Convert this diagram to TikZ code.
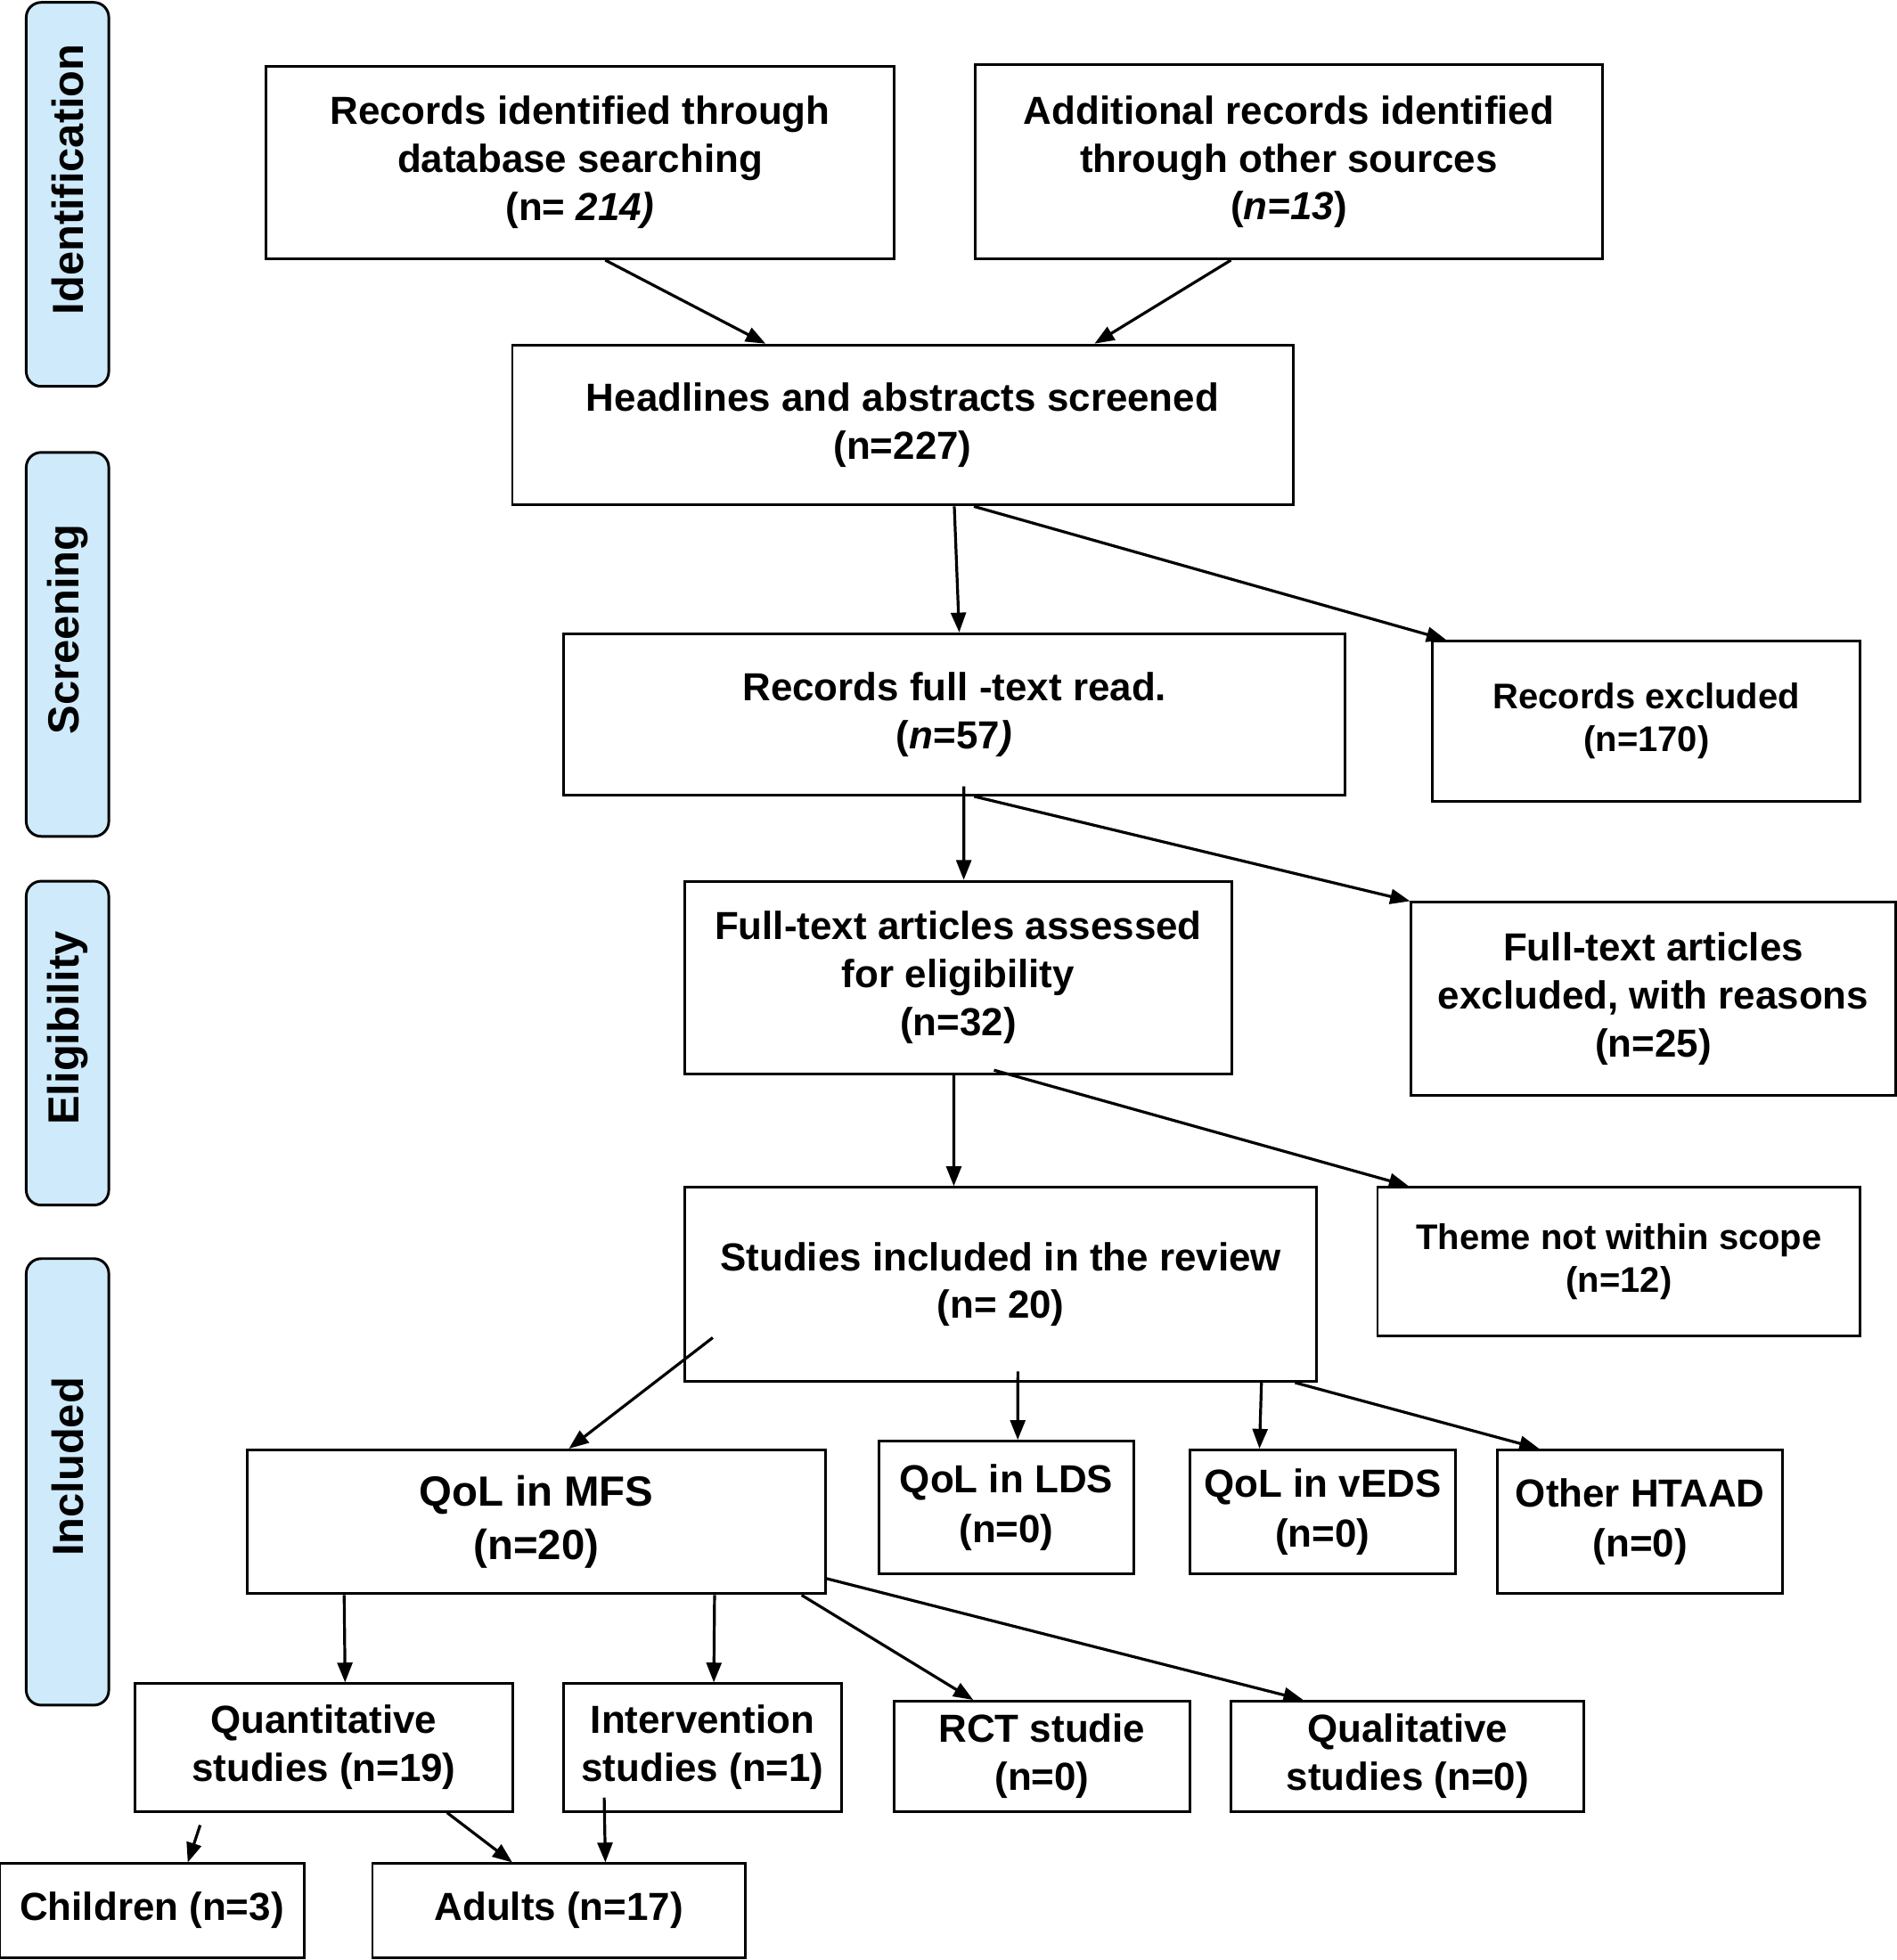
\documentclass[tikz,border=0pt]{standalone}
\usepackage{fontspec}
\setmainfont{Liberation Sans}
\usepackage{xcolor}
\definecolor{stageblue}{RGB}{206,234,251}
\usepackage{tikz}
\usetikzlibrary{calc,positioning,arrows.meta}
\tikzset{
    stage/.style={
    rectangle,rounded corners=3.4pt,draw=black,fill=stageblue,line width=0.6pt,rotate=90,minimum height=0.66cm,font=\fontsize{9.9}{12}\selectfont\bfseries,execute at begin node=\hspace*{0.24cm}
    },
  prog/.style={rectangle, draw=black, line width=0.6pt, align=center, inner sep=2pt, font=\fontsize{8.9}{10.9}\selectfont\bfseries},
  progsm/.style={prog, font=\fontsize{8.1}{9.7}\selectfont\bfseries},
  progqol/.style={prog, font=\fontsize{8.9}{11.4}\selectfont\bfseries},
  progbig/.style={prog, font=\fontsize{9.6}{12.2}\selectfont\bfseries},
  line/.style={draw, line width=0.65pt, -{Triangle[length=4.5pt,width=3.4pt]}}
}

\begin{document}
\begin{tikzpicture}[x=0.01cm,y=-0.01cm]
    \useasboundingbox (0,0) rectangle (1517,1568);

    \node[stage,minimum width=3.07cm] (sid) at (54,155.5) {Identification};
    \node[stage,minimum width=3.07cm] (sscr) at (54,515.5) {Screening};
    \node[stage,minimum width=2.59cm] (selig) at (54,834.5) {Eligibility};
    \node[stage,minimum width=3.57cm] (sinc) at (54,1185.5) {Included};

    \node[prog,minimum width=5.02cm,minimum height=1.54cm] (db) at (464,130) {Records identified through\\ database searching\\ (n= \textit{214)}};
    \node[prog,minimum width=5.02cm,minimum height=1.55cm] (other) at (1031,129.5) {Additional records identified\\ through other sources\\ (\textit{n=13})};
    \node[prog,minimum width=6.24cm,minimum height=1.28cm] (scr) at (722,340) {Headlines and abstracts screened\\ (n=227)};
    \node[prog,minimum width=6.25cm,minimum height=1.29cm] (full) at (763.5,571.5) {Records full -text read.\\ (\textit{n}=57\textit{)}};
    \node[progsm,minimum width=3.42cm,minimum height=1.28cm] (excl) at (1317,577) {Records excluded\\ (n=170)};
    \node[prog,minimum width=4.37cm,minimum height=1.54cm] (elig) at (766.5,782) {Full-text articles assessed\\ for eligibility\\ (n=32)};
    \node[prog,minimum width=3.87cm,minimum height=1.54cm] (reas) at (1322.5,799) {Full-text articles\\ excluded, with reasons\\ (n=25)};
    \node[prog,minimum width=5.05cm,minimum height=1.55cm] (rev) at (800.5,1027.5) {Studies included in the review\\ (n= 20)};
    \node[progsm,minimum width=3.86cm,minimum height=1.19cm] (scope) at (1295,1009.5) {Theme not within scope\\ (n=12)};

    \node[progbig,minimum width=4.62cm,minimum height=1.15cm] (mfs) at (429,1217.5) {QoL in MFS\\ (n=20)};
    \node[progqol,minimum width=2.04cm,minimum height=1.06cm] (lds) at (805,1206) {QoL in LDS\\ (n=0)};
    \node[progqol,minimum width=2.12cm,minimum height=0.99cm] (veds) at (1058,1209.5) {QoL in vEDS\\ (n=0)};
    \node[progqol,minimum width=2.28cm,minimum height=1.15cm] (htaad) at (1312,1217.5) {Other HTAAD\\ (n=0)};

    \node[prog,minimum width=3.02cm,minimum height=1.02cm] (quant) at (259,1398) {Quantitative\\ studies (n=19)};
    \node[prog,minimum width=2.22cm,minimum height=1.02cm] (interv) at (562,1398) {Intervention\\ studies (n=1)};
    \node[prog,minimum width=2.37cm,minimum height=0.88cm] (rct) at (833.5,1405) {RCT studie\\ (n=0)};
    \node[prog,minimum width=2.82cm,minimum height=0.88cm] (qual) at (1126,1405) {Qualitative\\ studies (n=0)};
    \node[prog,minimum width=2.43cm,minimum height=0.75cm] (child) at (121.5,1528.5) {Children (n=3)};
    \node[prog,minimum width=2.98cm,minimum height=0.75cm] (adult) at (447,1528.5) {Adults (n=17)};

    \begin{scope} [every path/.style=line]
      \path ($(db.south west)!.54!(db.south east)$) -- ($(scr.north west)!.325!(scr.north east)$);
      \path ($(other.south west)!.408!(other.south east)$) -- ($(scr.north west)!.745!(scr.north east)$);
      \path ($(scr.south west)!.566!(scr.south east)$) -- ($(full.north west)!.506!(full.north east)$);
      \path ($(scr.south west)!.591!(scr.south east)$) -- ($(excl.north west)!.035!(excl.north east)$);
      \path ($(full.south west)!.512!(full.south east)+(0,-8)$) -- ($(elig.north west)!.51!(elig.north east)$);
      \path ($(full.south west)!.525!(full.south east)$) -- (reas.north west);
      \path ($(elig.south west)!.492!(elig.south east)$) -- ($(rev.north west)!.426!(rev.north east)$);
      \path ($(elig.south west)!.565!(elig.south east)+(0,-4)$) -- ($(scope.north west)!.067!(scope.north east)$);

      \path ($(rev.south west)!.046!(rev.south east)+(0,-36)$) -- ($(mfs.north west)!.556!(mfs.north east)$);
      \path ($(rev.south west)!.527!(rev.south east)+(0,-9)$) -- ($(lds.north west)!.544!(lds.north east)$);
      \path ($(rev.south west)!.911!(rev.south east)$) -- ($(veds.north west)!.264!(veds.north east)$);
      \path ($(rev.south west)!.964!(rev.south east)$) -- ($(htaad.north west)!.149!(htaad.north east)$);

      \path ($(mfs.south west)!.169!(mfs.south east)$) -- ($(quant.north west)!.556!(quant.north east)$);
      \path ($(mfs.south west)!.807!(mfs.south east)$) -- ($(interv.north west)!.54!(interv.north east)$);
      \path ($(mfs.south west)!.957!(mfs.south east)$) -- ($(rct.north west)!.27!(rct.north east)$);
      \path ($(mfs.north east)!.887!(mfs.south east)$) -- ($(qual.north west)!.206!(qual.north east)$);

      \path ($(quant.south west)!.175!(quant.south east)+(0,10)$) -- ($(child.north west)!.617!(child.north east)$);
      \path ($(quant.south west)!.824!(quant.south east)$) -- ($(adult.north west)!.376!(adult.north east)$);
      \path ($(interv.south west)!.149!(interv.south east)+(0,-12)$) -- ($(adult.north west)!.624!(adult.north east)$);
    \end{scope}

  \end{tikzpicture}
\end{document}
